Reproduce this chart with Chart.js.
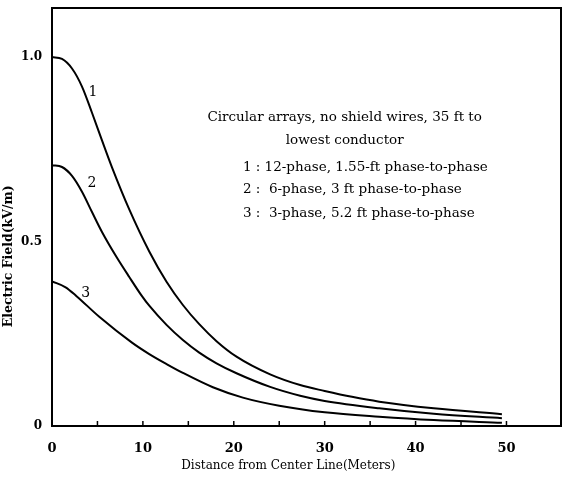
<!DOCTYPE html>
<html>
<head>
<meta charset="utf-8">
<script src="https://cdn.jsdelivr.net/npm/chart.js@4/dist/chart.umd.min.js"></script>
<style>
  html, body { margin: 0; padding: 0; background: #fff; }
  #wrap { width: 563px; height: 477px; }
</style>
</head>
<body>
<div id="wrap"><canvas id="grafico"></canvas></div>
<script>
// distancia (m) y campo eléctrico (kV/m)
const dist1 = [0, 1.1, 2.2, 3.3, 4.4, 5.5, 6.6, 8.5, 10.7, 12.6, 14.4, 16.2, 18.1, 20.3, 24, 27.3, 30, 33, 36, 42, 49.5];
const campo1 = [1.0, 0.995, 0.969, 0.92, 0.849, 0.774, 0.701, 0.587, 0.473, 0.391, 0.328, 0.276, 0.23, 0.188, 0.14, 0.111, 0.095, 0.079, 0.066, 0.048, 0.032];

const dist2 = [0, 1.1, 2.2, 3.3, 4.4, 5.5, 7.1, 8.5, 9.9, 10.7, 12.6, 14.4, 16.2, 18.1, 20.3, 24, 27.3, 30, 36, 42, 49.5];
const campo2 = [0.707, 0.702, 0.678, 0.635, 0.58, 0.526, 0.458, 0.404, 0.352, 0.326, 0.274, 0.233, 0.199, 0.17, 0.143, 0.106, 0.082, 0.068, 0.048, 0.033, 0.021];

const dist3 = [0, 1.5, 2.7, 5.2, 8.8, 10.7, 12.6, 14.4, 17.7, 21, 25, 30, 36, 42, 49.5];
const campo3 = [0.392, 0.376, 0.352, 0.296, 0.226, 0.195, 0.168, 0.144, 0.105, 0.077, 0.055, 0.037, 0.025, 0.016, 0.009];

const xTicks = [0, 5, 10, 15, 20, 25, 30, 35, 40, 45, 50];
const xLabels = ['0', '', '10', '', '20', '', '30', '', '40', '', '50'];
const yTicks = [0, 0.5, 1.0];
const yLabels = ['0', '0.5', '1.0'];

const curveNames = ['1', '2', '3'];
const curveNamePos = [[4.5, 0.905], [4.4, 0.659], [3.7, 0.36]]; // en unidades de datos

const noteLines = ['Circular arrays, no shield wires, 35 ft to', 'lowest conductor'];
const legendLines = [
  '1 : 12-phase, 1.55-ft phase-to-phase',
  '2 :  6-phase, 3 ft phase-to-phase',
  '3 :  3-phase, 5.2 ft phase-to-phase'
];

const serif = '"DejaVu Serif", "Liberation Serif", serif';

function puntos(xs, ys) {
  return xs.map((x, i) => ({ x: x, y: ys[i] }));
}

function serie(xs, ys) {
  return {
    data: puntos(xs, ys),
    borderColor: '#000',
    borderWidth: 2,
    pointRadius: 0,
    showLine: true,
    fill: false,
    cubicInterpolationMode: 'monotone'
  };
}

// marco, marcas interiores y textos
const extras = {
  id: 'extras',
  afterDraw(chart) {
    const ctx = chart.ctx;
    const a = chart.chartArea;
    const xs = chart.scales.x;
    const ys = chart.scales.y;
    ctx.save();
    ctx.strokeStyle = '#000';
    ctx.lineWidth = 2;
    ctx.strokeRect(a.left, a.top, a.right - a.left, a.bottom - a.top);

    ctx.lineWidth = 1.5;
    xTicks.forEach(v => {
      const px = xs.getPixelForValue(v);
      ctx.beginPath();
      ctx.moveTo(px, a.bottom);
      ctx.lineTo(px, a.bottom - 5);
      ctx.stroke();
    });

    ctx.fillStyle = '#000';
    ctx.font = '14px ' + serif;
    ctx.textAlign = 'center';
    ctx.textBaseline = 'middle';
    curveNames.forEach((n, i) => {
      ctx.fillText(n, xs.getPixelForValue(curveNamePos[i][0]), ys.getPixelForValue(curveNamePos[i][1]));
    });

    ctx.font = '13.5px ' + serif;
    ctx.fillText(noteLines[0], xs.getPixelForValue(32.2), ys.getPixelForValue(0.837));
    ctx.fillText(noteLines[1], xs.getPixelForValue(32.2), ys.getPixelForValue(0.775));

    ctx.textAlign = 'left';
    const ly = [0.702, 0.640, 0.577];
    legendLines.forEach((t, i) => {
      ctx.fillText(t, xs.getPixelForValue(21.0), ys.getPixelForValue(ly[i]));
    });

    // título del eje X
    ctx.textAlign = 'center';
    ctx.font = '12px ' + serif;
    ctx.fillText('Distance from Center Line(Meters)', xs.getPixelForValue(26), a.bottom + 40);

    // título del eje Y
    ctx.translate(9, ys.getPixelForValue(0.46));
    ctx.rotate(-Math.PI / 2);
    ctx.font = 'bold 12.5px ' + serif;
    ctx.fillText('Electric Field(kV/m)', 0, 0);
    ctx.restore();
  }
};

const ctx = document.getElementById('grafico').getContext('2d');
new Chart(ctx, {
  type: 'scatter',
  data: {
    datasets: [serie(dist1, campo1), serie(dist2, campo2), serie(dist3, campo3)]
  },
  options: {
    responsive: true,
    maintainAspectRatio: false,
    animation: false,
    layout: { padding: { top: 8, right: 2, left: 0, bottom: 0 } },
    plugins: {
      legend: { display: false },
      tooltip: { enabled: false }
    },
    scales: {
      x: {
        type: 'linear',
        min: 0,
        max: 56,
        grid: { display: false },
        border: { display: false },
        afterBuildTicks: s => { s.ticks = xTicks.map(v => ({ value: v })); },
        afterFit: s => { s.height = 51; s.paddingLeft = 0; s.paddingRight = 0; },
        ticks: {
          color: '#000',
          padding: 7,
          maxRotation: 0,
          autoSkip: false,
          font: { family: serif, size: 13, weight: 'bold' },
          callback: (v) => xLabels[xTicks.indexOf(v)] || ''
        }
      },
      y: {
        type: 'linear',
        min: 0,
        max: 1.133,
        grid: { display: false },
        border: { display: false },
        afterBuildTicks: s => { s.ticks = yTicks.map(v => ({ value: v })); },
        afterFit: s => { s.width = 52; s.paddingTop = 0; s.paddingBottom = 0; },
        ticks: {
          color: '#000',
          padding: 2,
          autoSkip: false,
          font: { family: serif, size: 12, weight: 'bold' },
          callback: (v) => yLabels[yTicks.indexOf(v)]
        }
      }
    }
  },
  plugins: [extras]
});
</script>
</body>
</html>
